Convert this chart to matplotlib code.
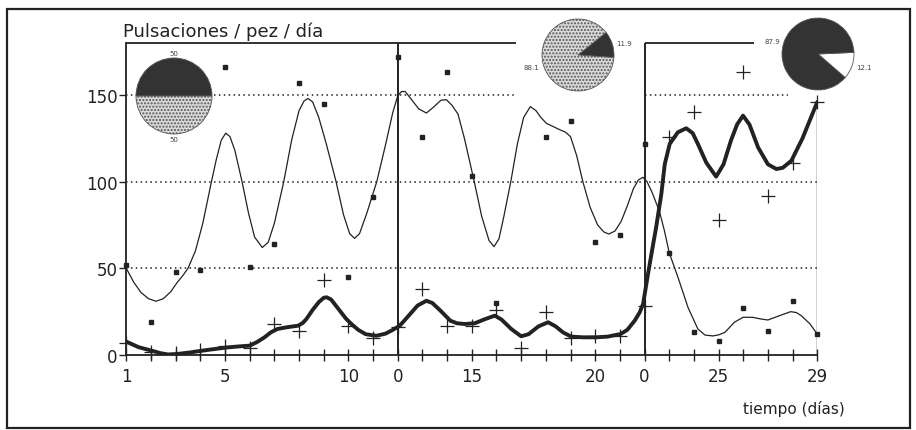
import matplotlib.pyplot as plt
from matplotlib.patches import Rectangle

# ---- data ----
# thin curve group (square markers)
a_days = [1, 2, 3, 4, 5, 6, 7, 8, 9, 10, 11, 12, 13, 14, 15, 16,
          18, 19, 20, 21, 22, 23, 24, 25, 26, 27, 28, 29]
a_vals = [52, 19, 48, 49, 166, 51, 64, 157, 145, 45, 91, 172, 126, 163, 103, 30,
          126, 135, 65, 69, 122, 59, 13, 8, 27, 14, 31, 12]

# thick curve group (+ markers)
b_days = list(range(1, 30))
b_vals = [7, 2, 1, 3, 5, 4, 18, 14, 43, 17, 10, 16, 38, 17, 17, 26, 4, 25, 10,
          11, 11, 28, 126, 140, 78, 163, 92, 111, 146]

# smoothed trend lines as drawn on the original
a_curve_x = [1.0, 1.3, 1.6, 1.9, 2.2, 2.5, 2.8, 3.07, 3.3, 3.5, 3.8, 4.1, 4.45, 4.65,
             4.85, 5.03, 5.2, 5.4, 5.69, 5.95, 6.2, 6.51, 6.75, 7.0, 7.38, 7.7, 8.0,
             8.2, 8.36, 8.55, 8.8, 9.1, 9.5, 9.8, 10.05, 10.25, 10.45, 10.75, 11.15,
             11.5, 11.8, 12.0, 12.15, 12.3, 12.55, 12.85, 13.16, 13.45, 13.75, 13.97,
             14.2, 14.44, 14.7, 15.1, 15.4, 15.7, 15.9, 16.1, 16.3, 16.58, 16.85,
             17.1, 17.37, 17.6, 17.8, 18.02, 18.5, 18.8, 19.0, 19.25, 19.5, 19.8,
             20.1, 20.35, 20.55, 20.8, 21.05, 21.3, 21.55, 21.75, 21.94, 22.1, 22.3,
             22.6, 22.8, 23.0, 23.35, 23.76, 24.16, 24.45, 24.77, 25.0, 25.25, 25.65,
             26.0, 26.4, 26.7, 27.0, 27.47, 27.92, 28.15, 28.35, 28.7, 29.0]
a_curve_y = [50, 42, 36, 32.5, 31, 32.5, 36.5, 42, 46, 50, 60, 76, 100, 113,
             124, 128, 126, 118, 100, 82, 68, 62, 65, 76, 100, 124, 141,
             146.5, 148, 146, 137, 122, 100, 81, 70, 67.3, 70, 82, 100,
             121, 140, 149.6, 152, 152, 147.5, 142, 139.6, 143, 147, 147.3,
             144, 139, 125, 100, 80, 66, 62.5, 67, 80, 100, 122,
             137, 143.3, 141, 137, 133.7, 130.4, 128.5, 126, 115, 100, 85,
             75, 71, 69.8, 71.5, 77, 86, 96, 101, 102.5, 100, 94,
             83, 72, 59, 45, 27.5, 15, 11.5, 11, 11.6, 13, 19,
             21.8, 21.7, 20.8, 20.2, 22.7, 25, 24.5, 22.7, 18, 12]

b_curve_x = [1.0, 1.5, 2.03, 2.4, 2.7, 3.07, 3.6, 4.08, 4.6, 5.12, 5.6, 6.0, 6.3, 6.6,
             6.85, 7.12, 7.5, 7.96, 8.15, 8.3, 8.55, 8.8, 9.0, 9.12, 9.3, 9.6, 9.9,
             10.12, 10.4, 10.7, 11.13, 11.5, 11.8, 12.08, 12.4, 12.8, 13.16, 13.4,
             13.7, 14.13, 14.4, 14.71, 15.12, 15.5, 15.93, 16.2, 16.6, 17.0, 17.3,
             17.7, 18.09, 18.4, 18.7, 19.03, 19.5, 20.04, 20.5, 21.03, 21.3, 21.6,
             21.8, 21.94, 22.14, 22.3, 22.47, 22.68, 22.82, 23.02, 23.35, 23.69,
             23.95, 24.16, 24.5, 24.9, 25.2, 25.5, 25.75, 25.99, 26.25, 26.6, 27.0,
             27.34, 27.6, 27.95, 28.4, 29.0]
b_curve_y = [7.7, 4.5, 2.5, 1, 0.3, 0.6, 1.5, 2.5, 3.5, 4.4, 5, 5.4, 7.5, 10.2,
             13, 15, 16, 16.9, 18.5, 20.8, 26, 30.5, 33, 33.3, 32, 26.5, 21,
             17.9, 14.5, 12, 11.1, 12.3, 14.5, 16.9, 22, 28.5, 31.3, 30,
             26, 19.8, 18.3, 17.9, 18.3, 20.5, 22.7, 20.5, 15, 10.8, 12,
             16.5, 18.9, 16.5, 13, 10.6, 10.2, 10.2, 10.6, 12.1, 14.5, 19.8,
             24.5, 29.4, 46.7, 60, 73.7, 92.9, 110.2, 121.8, 128.5, 130.8,
             128, 121.8, 111, 102.9, 110, 123.7, 133, 138.1, 133, 119.8, 110,
             107.3, 108, 112.1, 125, 146]

# pies: percentage split per period
pie1_vals = [50, 50]
pie1_labels = ['50', '50']
pie2_vals = [11.9, 88.1]
pie2_labels = ['11.9', '88.1']
pie3_vals = [12.1, 87.9]
pie3_labels = ['12.1', '87.9']

x_tick_pos = [1, 5, 10, 12, 15, 20, 22, 25, 29]
x_tick_lbl = ['1', '5', '10', '0', '15', '20', '0', '25', '29']
y_ticks = [0, 50, 100, 150]

ink = '#222222'
dark = '#333333'
light = '#dadada'
W, H = 916, 431
ymax = 180

fig = plt.figure(figsize=(W / 100, H / 100), dpi=100)
ax = fig.add_axes([126.3 / W, (H - 356) / H, (817.3 - 126.3) / W, (356 - 44) / H])

# dotted reference levels
dots = dict(colors=ink, linestyles=(0, (1, 2.2)), linewidth=1.1)
ax.hlines([50, 100], 1, 29, **dots)
ax.hlines(150, 1, 16.8, **dots)
ax.hlines(150, 22, 27.8, **dots)

# frame pieces and period separators
ax.hlines(ymax, 1, 16.8, colors=ink, linewidth=1.3, clip_on=False)
ax.hlines(ymax, 22, 26.45, colors=ink, linewidth=1.3, clip_on=False)
ax.vlines([12, 22], 0, ymax, colors=ink, linewidth=1.4)
ax.vlines(29, 0, b_vals[-1], colors=ink, linewidth=1.0)

# trend curves
ax.plot(a_curve_x, a_curve_y, color=ink, linewidth=0.9, solid_joinstyle='round')
ax.plot(b_curve_x, b_curve_y, color=ink, linewidth=2.8, solid_joinstyle='round',
        solid_capstyle='round')

# observations
ax.plot(a_days, a_vals, linestyle='none', marker='s', markersize=3,
        color=ink, clip_on=False)
ax.plot(b_days, b_vals, linestyle='none', marker='+', markersize=10,
        markeredgewidth=0.9, color=ink, clip_on=False)

ax.set_xlim(1, 29)
ax.set_ylim(0, ymax)
ax.spines['top'].set_visible(False)
ax.spines['right'].set_visible(False)
for s in ['left', 'bottom']:
    ax.spines[s].set_color(ink)
    ax.spines[s].set_linewidth(1.3)

ax.set_xticks(list(range(1, 30)))
ax.set_xticklabels([x_tick_lbl[x_tick_pos.index(d)] if d in x_tick_pos else ''
                    for d in range(1, 30)])
ax.tick_params(axis='x', direction='inout', length=9, width=1.0, color=ink,
               pad=4, labelsize=12, labelcolor=ink)
ax.set_yticks(y_ticks)
ax.set_yticklabels([str(v) for v in y_ticks])
ax.tick_params(axis='y', direction='out', length=5, width=1.0, color=ink,
               pad=1.5, labelsize=12, labelcolor=ink)

fig.text(123 / W, 1 - 32 / H, 'Pulsaciones / pez / día', fontsize=13,
         va='center', ha='left', color=ink)
fig.text(794 / W, 1 - 409 / H, 'tiempo (días)', fontsize=11,
         va='center', ha='center', color=ink)


def add_pie(cx, cy, r, vals, labels, colors, start):
    s = r * 1.25
    pax = fig.add_axes([(cx - s) / W, (H - cy - s) / H, 2 * s / W, 2 * s / H])
    wedges, texts = pax.pie(vals, labels=labels, colors=colors, startangle=start,
                            labeldistance=1.12,
                            wedgeprops=dict(edgecolor='#555555', linewidth=0.6),
                            textprops=dict(fontsize=5, color='#444444'))
    for w, c in zip(wedges, colors):
        if c == light:
            w.set_hatch('.....')
    return texts


t1 = add_pie(174, 97, 38, pie1_vals, pie1_labels, [dark, light], 0)
for t in t1:
    t.set_ha('center')
add_pie(578, 56, 36, pie2_vals, pie2_labels, [dark, light], -4)
add_pie(818, 55, 36, pie3_vals, pie3_labels, ['white', dark], -41)

# outer frame of the scanned page
fig.patches.append(Rectangle((7 / W, 2 / H), 903 / W, 419 / H, transform=fig.transFigure,
                             fill=False, edgecolor=ink, linewidth=1.6))

fig.savefig('out.png', dpi=100)
